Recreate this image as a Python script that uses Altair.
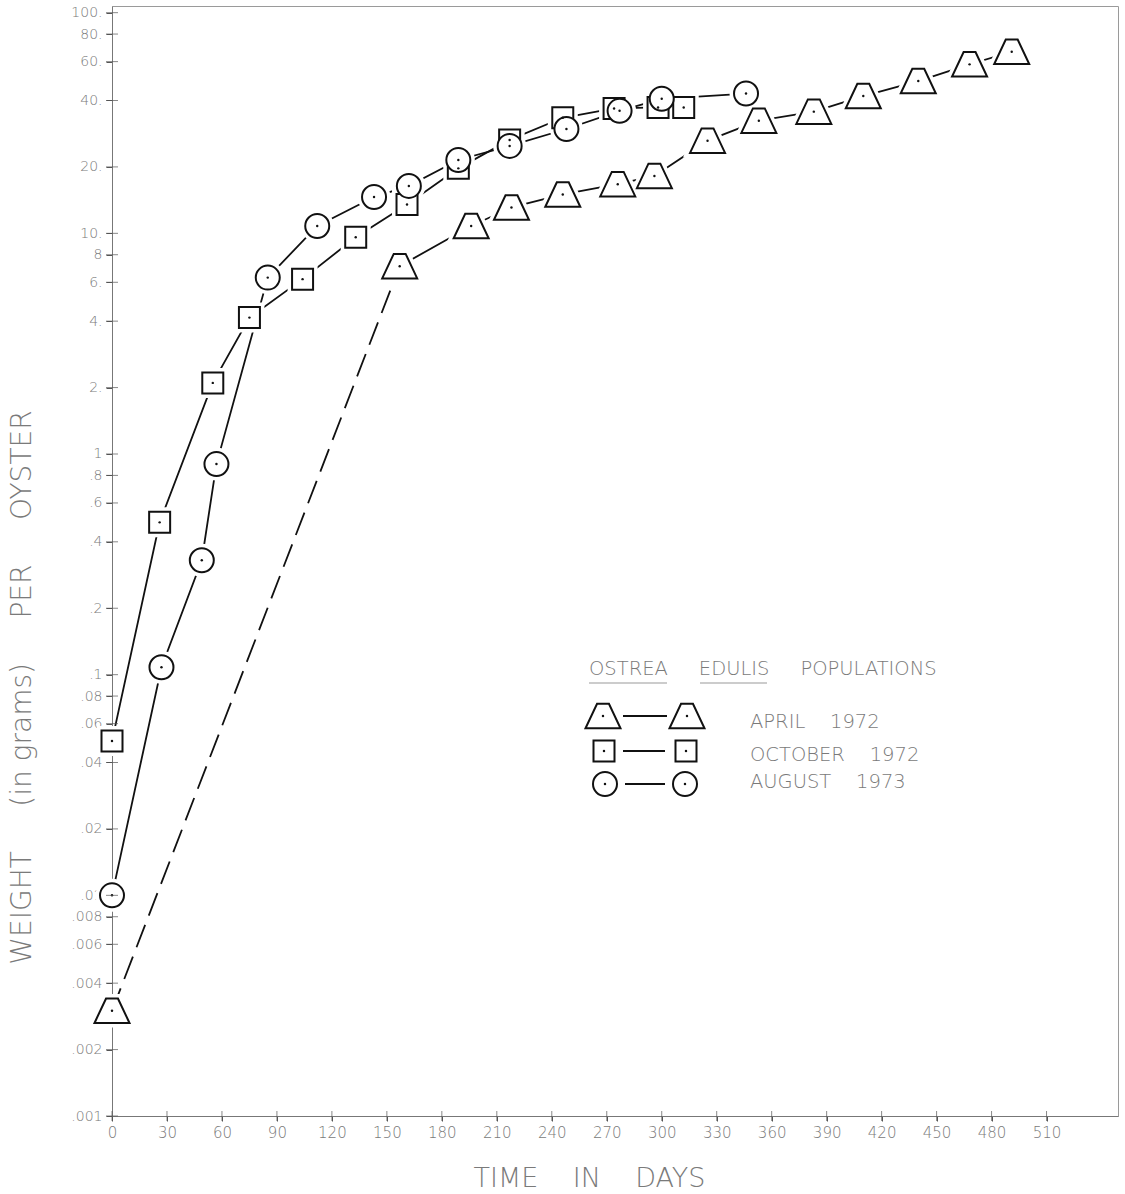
import altair as alt
import pandas as pd

# Ostrea edulis growth: mean weight per oyster (g) against days since start
tri_days = [0, 157, 196, 218, 246, 276, 296, 325, 353, 383, 410, 440, 468, 491]
tri_wt = [0.003, 7.1, 10.8, 13.1, 15.0, 16.7, 18.2, 26.3, 32.4, 35.6, 41.9, 49.0, 58.3, 66.5]

sq_days = [0, 26, 55, 75, 104, 133, 161, 189, 217, 246, 274, 298, 312]
sq_wt = [0.05, 0.49, 2.1, 4.15, 6.2, 9.6, 13.5, 19.7, 26.5, 33.4, 36.8, 37.2, 37.2]

circ_days = [0, 27, 49, 57, 85, 112, 143, 162, 189, 217, 248, 277, 300, 346]
circ_wt = [0.01, 0.108, 0.33, 0.90, 6.3, 10.8, 14.6, 16.4, 21.5, 24.9, 29.7, 35.9, 40.7, 43.0]

SP = "\u00a0"
series_names = [f"APRIL{SP*4}1972", f"OCTOBER{SP*4}1972", f"AUGUST{SP*4}1973"]

x_tick_values = list(range(0, 511, 30))
y_tick_values = [100, 80, 60, 40, 20, 10, 8, 6, 4, 2, 1, 0.8, 0.6, 0.4, 0.2, 0.1,
                 0.08, 0.06, 0.04, 0.02, 0.01, 0.008, 0.006, 0.004, 0.002, 0.001]
y_tick_labels = ["100.", "80.", "60.", "40.", "20.", "10.", "8", "6.", "4.", "2.", "1",
                 ".8", ".6", ".4", ".2", ".1", ".08", ".06", ".04", ".02", ".01",
                 ".008", ".006", ".004", ".002", ".001"]

INK = "#111111"
GREY = "#7a7a7a"
FONT = "DejaVu Sans"
LIGHT = 200

W, H = 1006, 1110
X_DOMAIN = [0, 549]
Y_DOMAIN = [0.001, 107.2]

TRAPEZOID = "M-0.34,-0.7L0.34,-0.7L1,0.7L-1,0.7Z"

tri = pd.DataFrame({"day": tri_days, "weight": tri_wt})
sq = pd.DataFrame({"day": sq_days, "weight": sq_wt})
circ = pd.DataFrame({"day": circ_days, "weight": circ_wt})

label_expr = " : ".join(
    f"datum.value == {v} ? '{t}'" for v, t in zip(y_tick_values, y_tick_labels)
) + " : ''"

x_enc = alt.X(
    "day:Q",
    scale=alt.Scale(domain=X_DOMAIN, nice=False, zero=False),
    axis=alt.Axis(
        values=x_tick_values, grid=False, tickSize=5, tickColor="#555",
        domainColor="#777", labelColor=GREY, labelFontSize=15, labelFont=FONT,
        labelFontWeight=LIGHT, labelPadding=4, labelFlush=False,
        title=f"TIME{SP*4}IN{SP*4}DAYS",
        titleFont=FONT, titleFontSize=27, titleFontWeight=LIGHT, titleColor=GREY,
        titleX=477, titleY=70, titleAlign="center", titleBaseline="alphabetic",
    ),
)
y_enc = alt.Y(
    "weight:Q",
    scale=alt.Scale(type="log", domain=Y_DOMAIN, nice=False),
    axis=alt.Axis(
        values=y_tick_values, labelExpr=label_expr, grid=False, tickSize=6,
        tickColor="#555", domainColor="#777", labelColor=GREY, labelFontSize=14,
        labelFont=FONT, labelFontWeight=LIGHT, labelPadding=4, labelFlush=False,
        labelOverlap=False,
        title=f"WEIGHT{SP*5}(in{SP}grams){SP*5}PER{SP*5}OYSTER",
        titleFont=FONT, titleFontSize=28, titleFontWeight=LIGHT, titleColor=GREY,
        titleX=-90, titleY=681, titleAngle=-90, titleAlign="center",
        titleBaseline="middle",
    ),
)


def base(d):
    return alt.Chart(d).encode(x=x_enc, y=y_enc)


# connecting lines
lines = [
    base(tri.iloc[:2]).mark_line(color=INK, strokeWidth=1.8, strokeDash=[24, 10]),
    base(tri.iloc[1:]).mark_line(color=INK, strokeWidth=1.8),
    base(sq).mark_line(color=INK, strokeWidth=1.8),
    base(circ).mark_line(color=INK, strokeWidth=1.8),
]

marker_specs = [(tri, TRAPEZOID, 1225), (sq, "square", 441), (circ, "circle", 576)]

halos = [
    base(d).mark_point(shape=s, size=z, filled=False, stroke="white",
                       strokeWidth=9, opacity=1)
    for d, s, z in marker_specs
]
markers = [
    base(d).mark_point(shape=s, size=z, filled=True, fill="white", stroke=INK,
                       strokeWidth=2, opacity=1)
    for d, s, z in marker_specs
]
dots = [
    base(d).mark_point(shape="circle", size=6, filled=True, color=INK, opacity=1)
    for d, _, _ in marker_specs
]

# cross ticks through the axis lines
x_cross = alt.Chart(pd.DataFrame({"day": x_tick_values})).mark_tick(
    orient="vertical", size=10, thickness=1, color="#555"
).encode(x=alt.X("day:Q"), y=alt.datum(0.001))
y_cross = alt.Chart(pd.DataFrame({"weight": y_tick_values})).mark_tick(
    orient="horizontal", size=12, thickness=1, color="#555"
).encode(x=alt.datum(0), y=alt.Y("weight:Q"))

# hand-drawn key, laid out in pixel space inside the plot
key_rows = pd.DataFrame({
    "label": series_names,
    "shape": [TRAPEZOID, "square", "circle"],
    "size": [1225, 441, 576],
    "x1": [491, 492, 493],
    "x2": [575, 574, 573],
    "lx1": [511, 511, 513],
    "lx2": [555, 553, 553],
    "ym": [710, 745, 778],
    "tx": [638, 638, 638],
    "ty": [722, 755, 782],
})

PX = dict(scale=None, axis=None)

key_lines = alt.Chart(key_rows).mark_rule(color=INK, strokeWidth=1.8).encode(
    x=alt.X("lx1:Q", **PX), x2="lx2:Q", y=alt.Y("ym:Q", **PX)
)
key_marks = []
for i, row in key_rows.iterrows():
    one = key_rows.iloc[[i]]
    for xcol in ["x1", "x2"]:
        key_marks.append(
            alt.Chart(one).mark_point(shape=row["shape"], size=int(row["size"]),
                                      filled=True, fill="white", stroke=INK,
                                      strokeWidth=2, opacity=1)
            .encode(x=alt.X(f"{xcol}:Q", **PX), y=alt.Y("ym:Q", **PX))
        )
        key_marks.append(
            alt.Chart(one).mark_point(shape="circle", size=6, filled=True,
                                      color=INK, opacity=1)
            .encode(x=alt.X(f"{xcol}:Q", **PX), y=alt.Y("ym:Q", **PX))
        )

key_text = alt.Chart(key_rows).mark_text(
    align="left", baseline="alphabetic", font=FONT, fontSize=19.5,
    fontWeight=LIGHT, color=GREY
).encode(x=alt.X("tx:Q", **PX), y=alt.Y("ty:Q", **PX), text="label:N")

key_title = alt.Chart(pd.DataFrame({
    "t": [f"OSTREA{SP*5}EDULIS{SP*5}POPULATIONS"],
    "x": [477], "y": [669],
})).mark_text(
    align="left", baseline="alphabetic", font=FONT, fontSize=19.5,
    fontWeight=LIGHT, color=GREY
).encode(x=alt.X("x:Q", **PX), y=alt.Y("y:Q", **PX), text="t:N")

key_underline = alt.Chart(pd.DataFrame({
    "a": [477, 588], "b": [555, 655], "y": [677, 677],
})).mark_rule(color="#999", strokeWidth=1.2).encode(
    x=alt.X("a:Q", **PX), x2="b:Q", y=alt.Y("y:Q", **PX)
)

chart = alt.layer(
    *lines, *halos, *markers, *dots, x_cross, y_cross,
    key_lines, *key_marks, key_text, key_title, key_underline,
).properties(
    width=W, height=H,
    autosize=alt.AutoSizeParams(type="none"),
    padding={"left": 112, "top": 6, "right": 7, "bottom": 78},
    background="white",
).configure_view(stroke="#9a9a9a", strokeWidth=1)

chart.save("out.html", embed_options={"renderer": "svg", "actions": False})
